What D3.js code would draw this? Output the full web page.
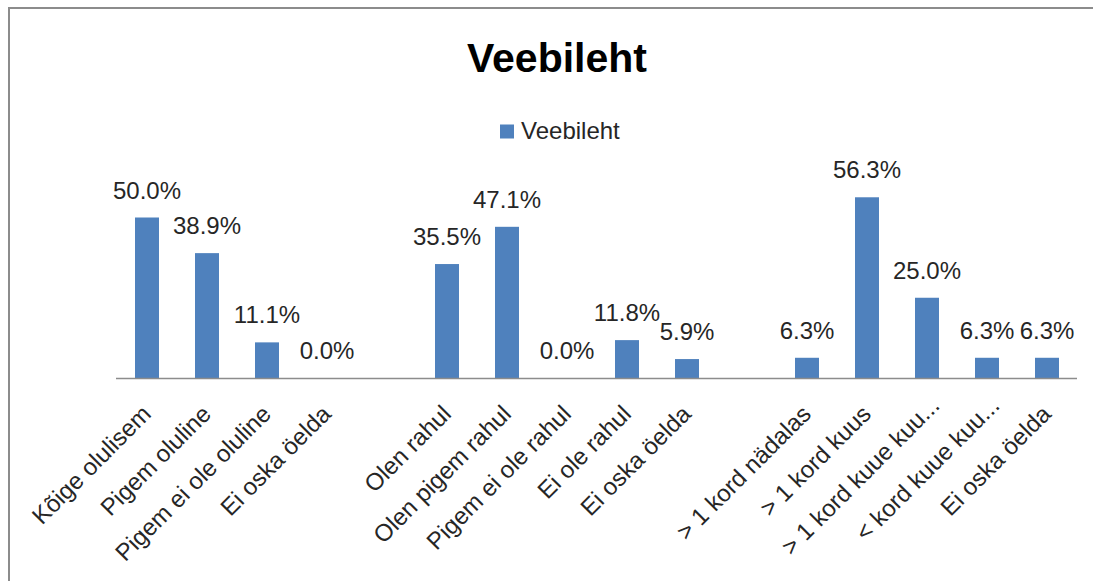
<!DOCTYPE html>
<html>
<head>
<meta charset="utf-8">
<script src="https://cdn.jsdelivr.net/npm/d3@7"></script>
<style>
  html, body { margin: 0; padding: 0; background: #fff; }
  svg { display: block; }
  text { font-family: "Liberation Sans", Arial, sans-serif; }
</style>
</head>
<body>
<svg id="chart" width="1093" height="581"></svg>
<script>
// ---- data ----
const title = "Veebileht";
const seriesName = "Veebileht";
const categories = [
  "Kõige olulisem", "Pigem oluline", "Pigem ei ole oluline", "Ei oska öelda", "",
  "Olen rahul", "Olen pigem rahul", "Pigem ei ole rahul", "Ei ole rahul", "Ei oska öelda", "",
  "> 1 kord nädalas", "> 1 kord kuus", "> 1 kord kuue kuu...", "< kord kuue kuu...", "Ei oska öelda"
];
const values = [
  50.0, 38.9, 11.1, 0.0, null,
  35.5, 47.1, 0.0, 11.8, 5.9, null,
  6.3, 56.3, 25.0, 6.3, 6.3
];
const yDomain = [0, 60];

// ---- layout ----
const W = 1093, H = 581;
const plot = { left: 117, right: 1077, top: 185.4, bottom: 378 };
const barColor = "#4F81BD";

const svg = d3.select("#chart");

// frame
svg.append("line").attr("x1", 9).attr("x2", W).attr("y1", 8).attr("y2", 8)
  .attr("stroke", "#8c8c8c").attr("stroke-width", 2);
svg.append("line").attr("x1", 9).attr("x2", 9).attr("y1", 7).attr("y2", H)
  .attr("stroke", "#8c8c8c").attr("stroke-width", 2);

// title
svg.append("text").attr("x", 557).attr("y", 72)
  .attr("text-anchor", "middle").attr("font-size", 41).attr("font-weight", "bold")
  .attr("fill", "#000").text(title);

// legend
svg.append("rect").attr("x", 500).attr("y", 124.5).attr("width", 14).attr("height", 14)
  .attr("fill", barColor);
svg.append("text").attr("x", 521).attr("y", 139).attr("font-size", 24)
  .attr("fill", "#262626").text(seriesName);

// scales
const idx = d3.range(categories.length);
const x = d3.scaleBand().domain(idx).range([plot.left, plot.right])
  .paddingInner(0.6).paddingOuter(0.3);
const y = d3.scaleLinear().domain(yDomain).range([plot.bottom, plot.top]);

// bars
const data = idx.map(i => ({ i, cat: categories[i], v: values[i] }));
svg.append("g").selectAll("rect").data(data.filter(d => d.v !== null && d.v > 0))
  .join("rect")
  .attr("x", d => x(d.i))
  .attr("width", x.bandwidth())
  .attr("y", d => y(d.v))
  .attr("height", d => y(0) - y(d.v))
  .attr("fill", barColor);

// data labels
svg.append("g").selectAll("text").data(data.filter(d => d.v !== null))
  .join("text")
  .attr("x", d => x(d.i) + x.bandwidth() / 2)
  .attr("y", d => y(d.v) - 19)
  .attr("text-anchor", "middle")
  .attr("font-size", 24)
  .attr("fill", "#262626")
  .text(d => d.v.toFixed(1) + "%");

// x axis
const xAxis = d3.axisBottom(x).tickSize(0).tickFormat(i => categories[i]);
const gx = svg.append("g").attr("transform", `translate(0,${plot.bottom})`).call(xAxis);
gx.select(".domain").attr("d", `M${plot.left - 1},0.5H${plot.right}`)
  .attr("stroke", "#8c8c8c").attr("stroke-width", 1.3);
gx.selectAll(".tick text")
  .attr("font-family", "Liberation Sans, Arial, sans-serif")
  .attr("font-size", 24)
  .attr("fill", "#262626")
  .attr("text-anchor", "end")
  .attr("dominant-baseline", "hanging")
  .attr("y", 0).attr("dy", 0)
  .attr("dx", i => categories[i].endsWith("...") ? 12 : 0)
  .attr("transform", "translate(-7,25) rotate(-45)");
</script>
</body>
</html>
